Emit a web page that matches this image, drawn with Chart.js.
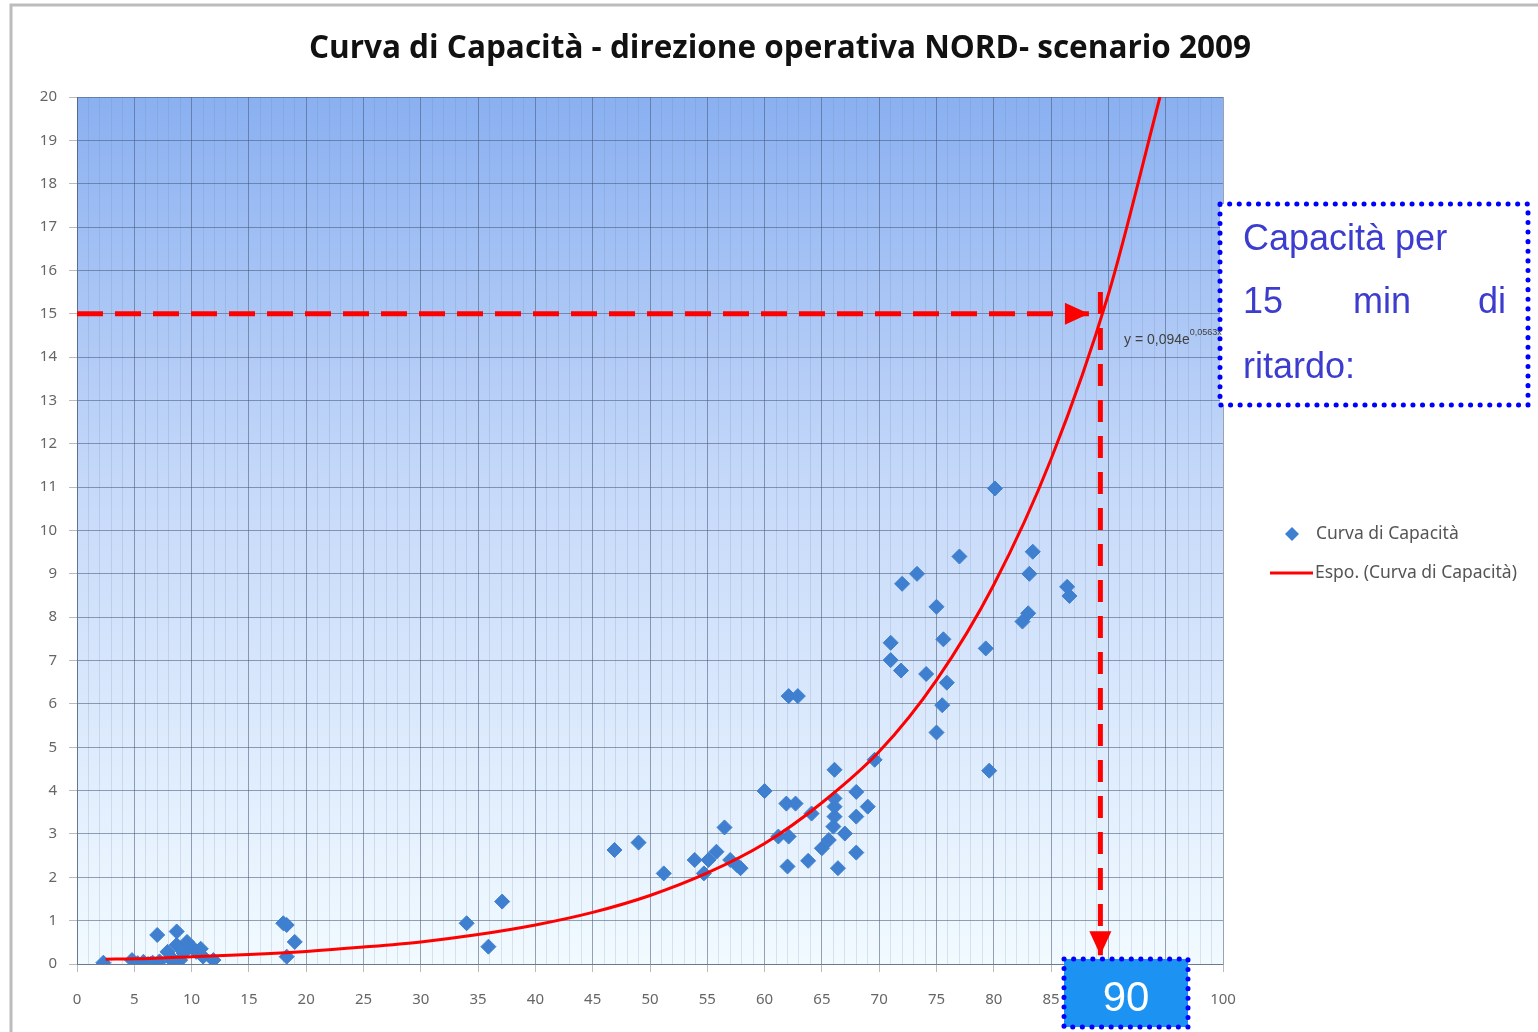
<!DOCTYPE html>
<html>
<head>
<meta charset="utf-8">
<script src="https://cdn.jsdelivr.net/npm/chart.js@4.4.0/dist/chart.umd.min.js"></script>
<style>
html,body{margin:0;padding:0;background:#fff;}
#wrap{width:1538px;height:1032px;position:relative;}
</style>
</head>
<body>
<div id="wrap"><canvas id="c" width="1538" height="1032"></canvas></div>
<script>
// ---- data ----
const titleText = 'Curva di Capacità - direzione operativa NORD- scenario 2009';
const seriesName = 'Curva di Capacità';
const trendName = 'Espo. (Curva di Capacità)';
const equationText = 'y = 0,094e';
const equationExp = '0,0563x';
const boxLines = ['Capacità per', '15', 'min', 'di', 'ritardo:'];
const resultLabel = '90';

const pointsX = [2.3,4.8,5.3,5.8,6.2,6.6,7.2,7.0,8.7,8.7,7.9,9.6,10.0,10.4,9.0,11.0,11.9,6.4,8.2,9.3,10.8,8.4,
  18.0,18.3,19.0,18.3,34.0,35.9,37.1,
  46.9,49.0,51.2,53.9,54.7,55.1,55.8,56.5,57.0,57.9,57.6,60.0,61.2,62.1,61.9,62.7,62.0,62.1,62.9,63.8,64.1,65.0,65.6,66.0,66.1,66.1,66.1,66.1,66.4,67.0,68.0,68.0,68.0,69.0,69.6,
  80.1,77.0,83.4,73.3,72.0,83.1,86.4,86.6,75.0,83.0,82.5,71.0,75.6,79.3,71.0,71.9,74.1,75.9,75.5,75.0,79.6];
const pointsY = [0.03,0.09,0.02,0.05,0.0,0.03,0.06,0.67,0.75,0.44,0.28,0.51,0.40,0.28,0.09,0.17,0.09,0.0,0.15,0.25,0.35,0.05,
  0.94,0.90,0.51,0.17,0.94,0.40,1.44,
  2.63,2.80,2.09,2.40,2.09,2.40,2.59,3.15,2.40,2.21,2.28,3.99,2.94,2.94,3.70,3.70,2.25,6.18,6.18,2.38,3.47,2.67,2.86,3.17,3.40,3.63,3.82,4.48,2.21,3.01,3.97,3.40,2.57,3.63,4.71,
  10.97,9.40,9.51,9.00,8.77,9.00,8.70,8.49,8.24,8.09,7.90,7.41,7.49,7.28,7.01,6.77,6.69,6.49,5.97,5.34,4.46];

const trendX = [2.5,5,10,15,20,25,30,35,40,45,50,55,60,65,70,75,80,85,90,94.5];
const trendY = [0.11,0.12,0.17,0.22,0.29,0.39,0.51,0.68,0.90,1.19,1.58,2.10,2.78,3.72,4.90,6.55,8.75,11.65,15.45,20.0];

const hGuideX = [0, 88.3];
const hGuideY = [15, 15];
const vGuideX = [89.3, 89.3];
const vGuideY = [15.5, 0.2];

const xMin = 0, xMax = 100, xStep = 1, xLabelEvery = 5;
const yMin = 0, yMax = 20, yStep = 1;

// ---- styling ----
const pointColor = '#3f7fcf';
const red = '#ff0000';
const zip = (xs, ys) => xs.map((x, i) => ({x, y: ys[i]}));

const bgPlugin = {
  id: 'bg',
  beforeDraw(chart) {
    const {ctx, chartArea: a} = chart;
    ctx.save();
    ctx.fillStyle = '#ffffff';
    ctx.fillRect(0, 0, chart.width, chart.height);
    const g = ctx.createLinearGradient(0, a.top, 0, a.bottom);
    g.addColorStop(0, 'rgb(138,176,241)');
    g.addColorStop(0.45, 'rgb(198,217,249)');
    g.addColorStop(1, 'rgb(241,250,255)');
    ctx.fillStyle = g;
    ctx.fillRect(a.left, a.top, a.right - a.left, a.bottom - a.top);
    ctx.restore();
  }
};

function dottedRect(ctx, x, y, w, h) {
  ctx.save();
  ctx.strokeStyle = '#0000ff';
  ctx.lineWidth = 5;
  ctx.lineCap = 'round';
  ctx.setLineDash([0.1, 9.5]);
  ctx.strokeRect(x, y, w, h);
  ctx.restore();
}

const overlayPlugin = {
  id: 'overlay',
  afterDraw(chart) {
    const {ctx} = chart;
    const xs = chart.scales.x, ys = chart.scales.y;
    ctx.save();
    // frame
    ctx.strokeStyle = '#bcbcbc';
    ctx.lineWidth = 3;
    ctx.beginPath();
    ctx.moveTo(11, 1032); ctx.lineTo(11, 5); ctx.lineTo(1538, 5);
    ctx.stroke();

    // arrow heads
    ctx.fillStyle = red;
    const hx = xs.getPixelForValue(hGuideX[1]), hy = ys.getPixelForValue(hGuideY[1]);
    ctx.beginPath();
    ctx.moveTo(hx, hy); ctx.lineTo(hx - 24, hy - 11); ctx.lineTo(hx - 24, hy + 11); ctx.closePath();
    ctx.fill();
    const vx = xs.getPixelForValue(vGuideX[1]), vy = ys.getPixelForValue(vGuideY[1]);
    ctx.beginPath();
    ctx.moveTo(vx, vy); ctx.lineTo(vx - 11, vy - 24); ctx.lineTo(vx + 11, vy - 24); ctx.closePath();
    ctx.fill();

    // legend
    ctx.fillStyle = pointColor;
    ctx.beginPath();
    ctx.moveTo(1292, 527); ctx.lineTo(1299, 534); ctx.lineTo(1292, 541); ctx.lineTo(1285, 534); ctx.closePath();
    ctx.fill();
    ctx.strokeStyle = red; ctx.lineWidth = 3;
    ctx.beginPath(); ctx.moveTo(1270, 573); ctx.lineTo(1313, 573); ctx.stroke();
    ctx.fillStyle = '#555555';
    ctx.font = '17.5px "Noto Sans"';
    ctx.textBaseline = 'middle';
    ctx.textAlign = 'left';
    ctx.fillText(seriesName, 1316, 534);
    ctx.fillText(trendName, 1315, 573);

    // capacity text box
    ctx.fillStyle = '#ffffff';
    ctx.fillRect(1220, 204, 308, 201);
    dottedRect(ctx, 1220, 204, 308, 201);
    ctx.fillStyle = '#3c3ccf';
    ctx.font = '36px "Liberation Sans"';
    ctx.textBaseline = 'middle';
    ctx.textAlign = 'left';
    ctx.fillText(boxLines[0], 1243, 240);
    ctx.fillText(boxLines[1], 1243, 303);
    ctx.textAlign = 'center';
    ctx.fillText(boxLines[2], 1382, 303);
    ctx.textAlign = 'right';
    ctx.fillText(boxLines[3], 1506, 303);
    ctx.textAlign = 'left';
    ctx.fillText(boxLines[4], 1243, 368);

    // equation label (partially hidden)
    ctx.save();
    ctx.beginPath(); ctx.rect(0, 0, 1247, 1032); ctx.clip();
    ctx.fillStyle = '#404040';
    ctx.font = '14px "Liberation Sans"';
    ctx.textAlign = 'left';
    ctx.fillText(equationText, 1124, 340);
    const w = ctx.measureText(equationText).width;
    ctx.font = '9px "Liberation Sans"';
    ctx.fillText(equationExp, 1124 + w, 333);
    ctx.restore();

    // result box
    ctx.fillStyle = '#1c92f2';
    ctx.fillRect(1064, 959, 124, 68);
    dottedRect(ctx, 1064, 959, 124, 68);
    ctx.fillStyle = '#ffffff';
    ctx.font = '42px "Liberation Sans"';
    ctx.textAlign = 'center';
    ctx.textBaseline = 'middle';
    ctx.fillText(resultLabel, 1126, 999);
    ctx.restore();
  }
};

const majorGrid = 'rgba(70,88,118,0.55)';
const minorGrid = 'rgba(110,130,165,0.2)';

new Chart(document.getElementById('c'), {
  type: 'scatter',
  data: {
    datasets: [
      {label: 'h', type: 'line', data: zip(hGuideX, hGuideY), borderColor: red, borderWidth: 5,
       borderDash: [26, 12], pointRadius: 0, fill: false, clip: false},
      {label: 'v', type: 'line', data: zip(vGuideX, vGuideY), borderColor: red, borderWidth: 5,
       borderDash: [22, 14], pointRadius: 0, fill: false, clip: false},
      {label: trendName, type: 'line', data: zip(trendX, trendY), borderColor: red, borderWidth: 3,
       pointRadius: 0, fill: false, cubicInterpolationMode: 'monotone'},
      {label: seriesName, data: zip(pointsX, pointsY), pointStyle: 'rectRot', pointRadius: 7.5,
       backgroundColor: pointColor, borderColor: pointColor, borderWidth: 1}
    ]
  },
  options: {
    responsive: false,
    animation: false,
    events: [],
    layout: {padding: {left: 22, right: 0, top: 0, bottom: 0}},
    plugins: {
      legend: {display: false},
      tooltip: {enabled: false},
      title: {
        display: true, text: titleText, color: '#111111',
        font: {family: 'Open Sans', size: 31.5, weight: 'bold', lineHeight: '33px'},
        padding: {top: 33, bottom: 31}
      }
    },
    scales: {
      x: {
        type: 'linear', min: xMin, max: xMax, position: 'bottom',
        ticks: {stepSize: xStep, autoSkip: false, maxRotation: 0, padding: 19, color: '#666',
          font: {family: 'Noto Sans', size: 15},
          callback: v => (v % xLabelEvery === 0 ? String(v) : '')},
        grid: {color: c => (c.tick && c.tick.value % xLabelEvery === 0 ? majorGrid : minorGrid),
          tickLength: 8, tickColor: c => (c.tick && c.tick.value % xLabelEvery === 0 ? 'rgba(120,120,120,0.5)' : 'rgba(0,0,0,0)')},
        border: {color: majorGrid},
        afterFit: s => { s.height = 68; }
      },
      y: {
        type: 'linear', min: yMin, max: yMax, position: 'left',
        ticks: {stepSize: yStep, padding: 12, color: '#666', font: {family: 'Noto Sans', size: 15}},
        grid: {color: majorGrid, tickLength: 8, tickColor: 'rgba(120,120,120,0.5)'},
        border: {color: majorGrid},
        afterFit: s => { s.width = 55; }
      },
      yR: {
        type: 'linear', position: 'right', min: 0, max: 1, display: true,
        ticks: {display: false}, grid: {display: false}, border: {display: false},
        afterFit: s => { s.width = 315; }
      }
    }
  },
  plugins: [bgPlugin, overlayPlugin]
});
</script>
</body>
</html>
